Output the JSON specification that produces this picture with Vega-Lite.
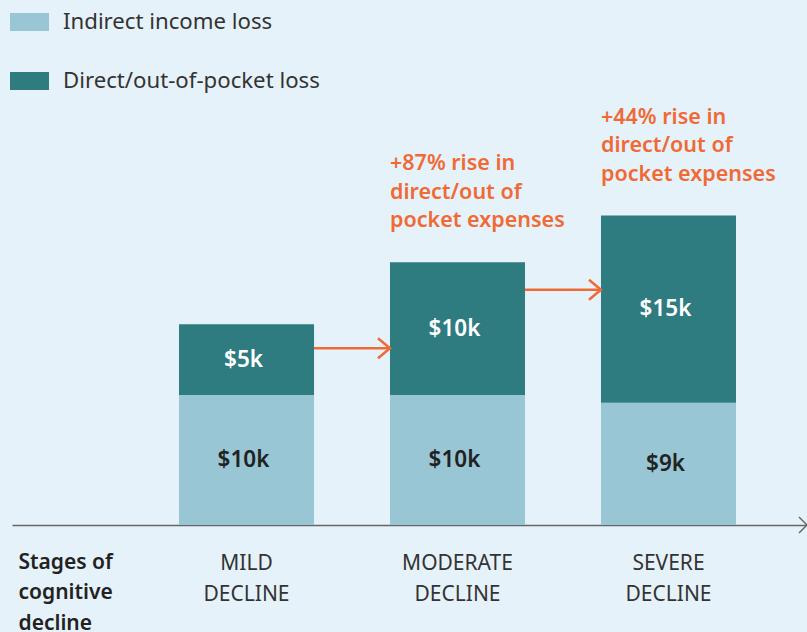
{
  "$schema": "https://vega.github.io/schema/vega-lite/v6.json",
  "width": 795,
  "height": 525,
  "padding": {"left": 12, "top": 0, "right": 0, "bottom": 107},
  "autosize": {"type": "none"},
  "background": "#e6f2fa",
  "config": {"view": {"stroke": null}, "font": "Noto Sans"},
  "data": {"values": [
    {"stage": "MILD", "type": "Indirect income loss", "value": 10, "label": "$10k"},
    {"stage": "MILD", "type": "Direct/out-of-pocket loss", "value": 5.45, "label": "$5k"},
    {"stage": "MODERATE", "type": "Indirect income loss", "value": 10, "label": "$10k"},
    {"stage": "MODERATE", "type": "Direct/out-of-pocket loss", "value": 10.2, "label": "$10k"},
    {"stage": "SEVERE", "type": "Indirect income loss", "value": 9.4, "label": "$9k"},
    {"stage": "SEVERE", "type": "Direct/out-of-pocket loss", "value": 14.4, "label": "$15k"}
  ]},
  "layer": [
    {
      "mark": {"type": "bar"},
      "encoding": {
        "x": {
          "field": "stage", "type": "nominal",
          "scale": {"paddingInner": 0.36, "paddingOuter": 0.564, "align": 0.7017},
          "axis": {
            "domain": true, "domainColor": "#666666", "domainWidth": 1.5,
            "ticks": false, "labelAngle": 0,
            "labelFont": "Noto Sans", "labelFontSize": 21, "labelColor": "#333333",
            "labelPadding": 27, "labelBaseline": "top", "labelLineHeight": 31,
            "labelExpr": "[datum.label, 'DECLINE']",
            "title": ["Stages of", "cognitive", "decline"],
            "titleFont": "Noto Sans", "titleFontSize": 21, "titleFontWeight": 600,
            "titleColor": "#222222", "titleAlign": "left", "titleAnchor": "start",
            "titleBaseline": "top", "titleLineHeight": 30.5,
            "titleX": 6, "titleY": 26
          }
        },
        "y": {
          "field": "value", "type": "quantitative", "stack": "zero",
          "scale": {"domain": [0, 40.38], "nice": false, "zero": true},
          "axis": null
        },
        "order": {"field": "type", "sort": "descending"},
        "color": {
          "field": "type", "type": "nominal",
          "scale": {
            "domain": ["Indirect income loss", "Direct/out-of-pocket loss"],
            "range": ["#98c6d5", "#2e7b80"]
          },
          "legend": {
            "orient": "none", "legendX": -2, "legendY": 2.5, "title": null,
            "direction": "vertical", "padding": 0,
            "symbolType": "M-1,-0.46L1,-0.46L1,0.46L-1,0.46Z",
            "symbolSize": 1521, "symbolStrokeWidth": 0, "symbolOpacity": 1,
            "labelFont": "Noto Sans", "labelFontSize": 22.2, "labelColor": "#333333",
            "labelOffset": 14, "rowPadding": 28, "labelLimit": 400
          }
        }
      }
    },
    {
      "transform": [
        {"stack": "value", "groupby": ["stage"], "sort": [{"field": "type", "order": "descending"}], "as": ["v0", "v1"]},
        {"calculate": "(datum.v0 + datum.v1) / 2", "as": "mid"}
      ],
      "mark": {"type": "text", "fontSize": 22.5, "fontWeight": 600, "align": "center", "baseline": "middle", "dx": -3},
      "encoding": {
        "x": {"field": "stage", "type": "nominal"},
        "y": {"field": "mid", "type": "quantitative"},
        "text": {"field": "label"},
        "color": {
          "condition": {"test": "datum.type === 'Direct/out-of-pocket loss'", "value": "#ffffff"},
          "value": "#222222"
        }
      }
    },
    {
      "transform": [
        {"aggregate": [{"op": "sum", "field": "value", "as": "total"}], "groupby": ["stage"]},
        {"lookup": "stage", "from": {"data": {"values": [
          {"stage": "MODERATE", "note": "+87% rise in\ndirect/out of\npocket expenses"},
          {"stage": "SEVERE", "note": "+44% rise in\ndirect/out of\npocket expenses"}
        ]}, "key": "stage", "fields": ["note"]}},
        {"filter": "datum.note != null"}
      ],
      "mark": {"type": "text", "fontSize": 21.5, "fontWeight": 600, "align": "left", "baseline": "bottom", "dy": -87, "lineBreak": "\n", "lineHeight": 28.5, "color": "#f06a35"},
      "encoding": {
        "x": {"field": "stage", "type": "nominal", "bandPosition": 0},
        "y": {"field": "total", "type": "quantitative"},
        "text": {"field": "note"}
      }
    },
    {
      "data": {"values": [
        {"from": "MILD", "to": "MODERATE", "level": 13.6},
        {"from": "MODERATE", "to": "SEVERE", "level": 18.1}
      ]},
      "layer": [
        {
          "mark": {"type": "rule", "color": "#f06a35", "strokeWidth": 2.5},
          "encoding": {
            "x": {"field": "from", "type": "nominal", "bandPosition": 1},
            "x2": {"field": "to", "bandPosition": 0},
            "y": {"field": "level", "type": "quantitative"}
          }
        },
        {
          "mark": {"type": "point", "shape": "M-1.2,-1L0,0L-1.2,1", "size": 400, "filled": false, "color": "#f06a35", "strokeWidth": 2.5, "opacity": 1},
          "encoding": {
            "x": {"field": "to", "type": "nominal", "bandPosition": 0},
            "y": {"field": "level", "type": "quantitative"}
          }
        }
      ]
    },
    {
      "data": {"values": [{"marker": "axis end"}]},
      "mark": {"type": "point", "shape": "M-1,-1L0,0L-1,1", "size": 256, "filled": false, "color": "#666666", "strokeWidth": 1.5, "opacity": 1},
      "encoding": {
        "x": {"value": "width"},
        "y": {"datum": 0, "type": "quantitative"}
      }
    }
  ]
}
